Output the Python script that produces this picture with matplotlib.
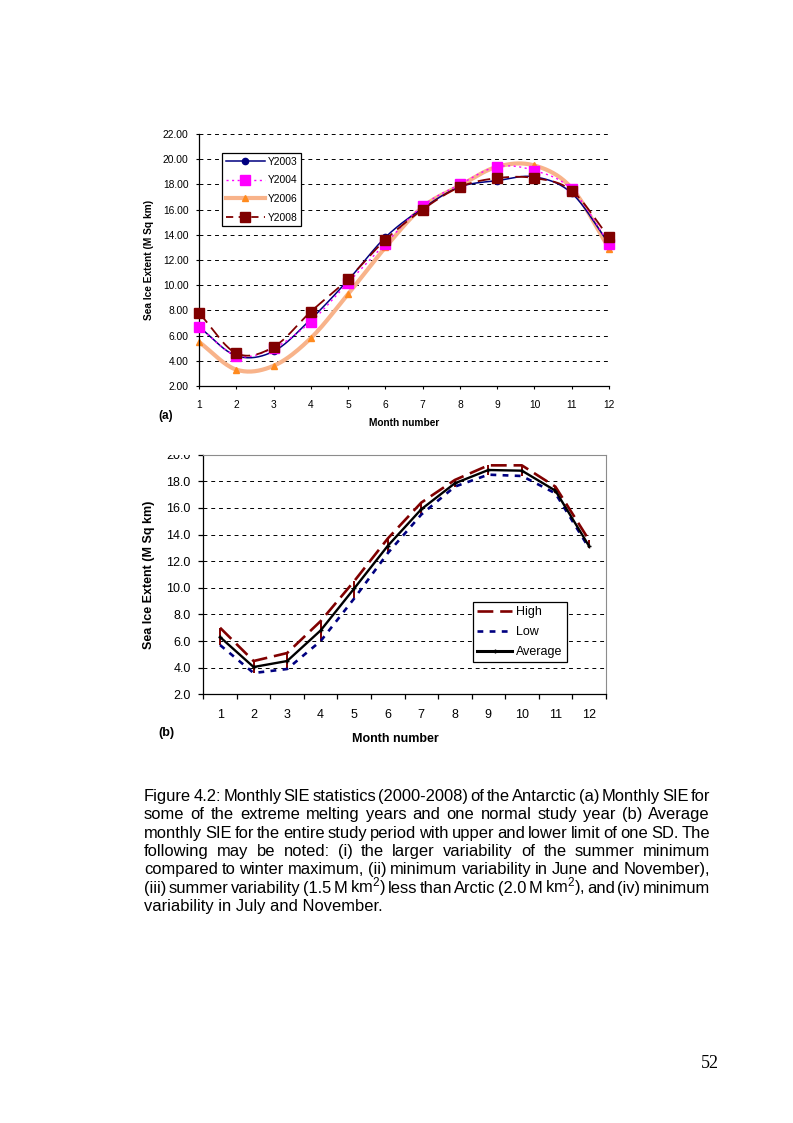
import numpy as np
import matplotlib
matplotlib.use('Agg')
import matplotlib.pyplot as plt
from matplotlib.lines import Line2D
from matplotlib.transforms import Bbox
from matplotlib.ticker import FormatStrFormatter

plt.rcParams['font.family'] = ['Liberation Sans', 'DejaVu Sans']
plt.rcParams['mathtext.fontset'] = 'custom'
plt.rcParams['mathtext.rm'] = 'Liberation Sans'
plt.rcParams['mathtext.it'] = 'Liberation Sans:italic'
plt.rcParams['mathtext.bf'] = 'Liberation Sans:bold'

# ---------------- data ----------------
months = list(range(1, 13))
month_labels = [str(m) for m in months]

# (a) monthly SIE for selected years (M sq km)
y2003 = [6.7, 4.4, 4.75, 7.3, 10.4, 13.8, 16.1, 17.8, 18.3, 18.6, 17.3, 13.3]
y2004 = [6.7, 4.4, 5.0, 7.1, 10.2, 13.3, 16.3, 18.0, 19.4, 19.1, 17.6, 13.3]
y2006 = [5.5, 3.3, 3.6, 5.8, 9.3, 13.0, 16.2, 17.9, 19.4, 19.5, 17.7, 12.9]
y2008 = [7.8, 4.6, 5.1, 7.9, 10.5, 13.6, 16.0, 17.8, 18.5, 18.5, 17.5, 13.8]

# (b) average and +/- one SD
sie_high = [7.0, 4.5, 5.1, 7.5, 10.5, 13.7, 16.4, 18.1, 19.2, 19.2, 17.6, 13.6]
sie_low = [5.7, 3.6, 3.9, 6.0, 9.2, 12.6, 15.5, 17.6, 18.5, 18.4, 17.1, 13.0]
sie_avg = [6.3, 4.05, 4.5, 6.8, 9.95, 13.15, 15.9, 17.85, 18.85, 18.8, 17.3, 13.15]

caption_lines = [
    "Figure 4.2: Monthly SIE statistics (2000-2008) of the Antarctic (a) Monthly SIE for",
    "some of the extreme melting years and one normal study year (b) Average",
    "monthly SIE for the entire study period with upper and lower limit of one SD. The",
    "following may be noted: (i) the larger variability of the summer minimum",
    "compared to winter maximum, (ii) minimum variability in June and November),",
    "(iii) summer variability (1.5 M km$^{2}$) less than Arctic (2.0 M km$^{2}$), and (iv) minimum",
    "variability in July and November.",
]
page_number = "52"

# ---------------- figure ----------------
W, H = 793, 1123
fig = plt.figure(figsize=(W / 100, H / 100), dpi=100)


def fx(x):
    return x / W


def fy(y):
    return 1 - y / H


def smooth(x, y, n=20):
    """Catmull-Rom curve through the points (Excel-style smoothed line)."""
    x = np.asarray(x, float)
    y = np.asarray(y, float)
    px = np.concatenate([[2 * x[0] - x[1]], x, [2 * x[-1] - x[-2]]])
    py = np.concatenate([[2 * y[0] - y[1]], y, [2 * y[-1] - y[-2]]])
    t = np.linspace(0, 1, n, endpoint=False)
    xs, ys = [], []
    for i in range(1, len(px) - 2):
        for P, out in ((px, xs), (py, ys)):
            p0, p1, p2, p3 = P[i - 1], P[i], P[i + 1], P[i + 2]
            out.extend(0.5 * ((2 * p1) + (-p0 + p2) * t
                              + (2 * p0 - 5 * p1 + 4 * p2 - p3) * t ** 2
                              + (-p0 + 3 * p1 - 3 * p2 + p3) * t ** 3))
    xs.append(x[-1])
    ys.append(y[-1])
    return xs, ys


# ---------------- chart (a) ----------------
ax1 = fig.add_axes([fx(199), fy(386), (609 - 199) / W, (386 - 134) / H])
ax1.set_xlim(1, 12)
ax1.set_ylim(2, 22)
ax1.set_xticks(months)
ax1.set_xticklabels(month_labels)
ax1.set_yticks(np.arange(2, 23, 2))
ax1.yaxis.set_major_formatter(FormatStrFormatter('%.2f'))
ax1.tick_params(axis='y', length=2.5, width=0.8, pad=5, labelsize=7.4)
ax1.tick_params(axis='x', length=2.5, width=0.8, pad=7.5, labelsize=7.4)
for s in ('top', 'right'):
    ax1.spines[s].set_visible(False)
for s in ('left', 'bottom'):
    ax1.spines[s].set_linewidth(0.9)
for v in np.arange(4, 23, 2):
    ax1.axhline(v, color='black', lw=0.7, ls=(0, (4, 4)), zorder=1)

c2003, c2004, c2006l, c2006m, c2008 = '#000080', '#FF00FF', '#F8B38A', '#FF8A1E', '#800000'

sx, sy = smooth(months, y2006)
ax1.plot(sx, sy, color=c2006l, lw=3.0, zorder=2, solid_capstyle='butt')
ax1.plot(months, y2006, ls='none', marker='^', ms=4.5, color=c2006m, zorder=2.5, clip_on=False)

sx, sy = smooth(months, y2003)
ax1.plot(sx, sy, color=c2003, lw=1.1, zorder=3)
ax1.plot(months, y2003, ls='none', marker='o', ms=4.5, color=c2003, zorder=3, clip_on=False)

sx, sy = smooth(months, y2004)
ax1.plot(sx, sy, color=c2004, lw=1.0, ls=(0, (1.5, 2.5)), zorder=4)
ax1.plot(months, y2004, ls='none', marker='s', ms=6.5, color=c2004, zorder=4, clip_on=False)

sx, sy = smooth(months, y2008)
ax1.plot(sx, sy, color=c2008, lw=1.3, ls=(0, (7, 3.5)), zorder=5)
ax1.plot(months, y2008, ls='none', marker='s', ms=6.5, color=c2008, zorder=5, clip_on=False)

h1 = [
    Line2D([], [], color=c2003, lw=1.1, marker='o', ms=4.5),
    Line2D([], [], color=c2004, lw=1.0, ls=(0, (1.5, 2.5)), marker='s', ms=6.5),
    Line2D([], [], color=c2006l, lw=3.0, marker='^', ms=4.5, mfc=c2006m, mec=c2006m),
    Line2D([], [], color=c2008, lw=1.3, ls=(0, (4, 3)), marker='s', ms=6.5),
]
leg1 = ax1.legend(h1, ['Y2003', 'Y2004', 'Y2006', 'Y2008'], loc='upper left',
                  bbox_to_anchor=(fx(222), fy(153)), bbox_transform=fig.transFigure,
                  borderaxespad=0, fontsize=7.4, handlelength=3.8, handletextpad=0.3,
                  labelspacing=0.85, borderpad=0.35, fancybox=False, framealpha=1,
                  edgecolor='black')
leg1.get_frame().set_linewidth(0.9)

fig.text(fx(149), fy(260), 'Sea Ice Extent (M Sq km)', rotation=90, ha='center',
         va='center', fontsize=7.3, fontweight='bold')
fig.text(fx(404), fy(423), 'Month number', ha='center', va='center', fontsize=7.3,
         fontweight='bold')
fig.text(fx(165.5), fy(416), '(a)', ha='center', va='center', fontsize=8.5,
         fontweight='bold')

# ---------------- chart (b) ----------------
ax2 = fig.add_axes([fx(203.3), fy(694.3), (605.7 - 203.3) / W, (694.3 - 454.7) / H])
ax2.set_xlim(0.5, 12.5)
ax2.set_ylim(2, 20)
ax2.set_xticks(np.arange(0.5, 12.6, 1))
ax2.set_xticklabels([])
ax2.set_xticks(months, minor=True)
ax2.set_xticklabels(month_labels, minor=True)
ax2.tick_params(axis='x', which='major', length=3.5, width=0.9)
ax2.tick_params(axis='x', which='minor', length=0, pad=10.5, labelsize=9)
ax2.set_yticks(np.arange(2, 21, 2))
ax2.yaxis.set_major_formatter(FormatStrFormatter('%.1f'))
ax2.tick_params(axis='y', length=3.5, width=0.9, pad=5.5, labelsize=9)
for s in ('top', 'right'):
    ax2.spines[s].set_color('#8c8c8c')
    ax2.spines[s].set_linewidth(0.8)
for s in ('left', 'bottom'):
    ax2.spines[s].set_linewidth(0.9)
for v in np.arange(4, 19, 2):
    ax2.axhline(v, color='black', lw=0.7, ls=(0, (4, 4)), zorder=1)

# high-low lines
ax2.vlines(months, sie_low, sie_high, color='#800000', lw=1.4, zorder=2)
ax2.plot(months, sie_high, color='#800000', lw=1.9, ls=(0, (6, 2.6)), zorder=3)
ax2.plot(months, sie_low, color='#000080', lw=1.9, ls=(0, (2.2, 2.4)), zorder=3)
ax2.plot(months, sie_avg, color='black', lw=1.7, zorder=4, marker='+', ms=3, mew=1)

h2 = [
    Line2D([], [], color='#800000', lw=1.9, ls=(0, (6, 2.6))),
    Line2D([], [], color='#000080', lw=1.9, ls=(0, (2.2, 2.4))),
    Line2D([], [], color='black', lw=2.2, marker='+', ms=3, mew=1),
]
leg2 = ax2.legend(h2, ['High', 'Low', 'Average'], loc='upper left',
                  bbox_to_anchor=(fx(473), fy(602)), bbox_transform=fig.transFigure,
                  borderaxespad=0, fontsize=9, handlelength=2.8, handletextpad=0.3,
                  labelspacing=0.62, borderpad=0.35, fancybox=False, framealpha=1,
                  edgecolor='black')
leg2.get_frame().set_linewidth(0.9)

clip = Bbox.from_extents(0, 0, W, H - 454.7)
for tk in ax2.yaxis.get_major_ticks():
    tk.label1.set_clip_box(clip)
    tk.label1.set_clip_on(True)

fig.text(fx(149), fy(575), 'Sea Ice Extent (M Sq km)', rotation=90, ha='center',
         va='center', fontsize=9, fontweight='bold')
fig.text(fx(395), fy(739), 'Month number', ha='center', va='center', fontsize=9,
         fontweight='bold')
fig.text(fx(166), fy(733), '(b)', ha='center', va='center', fontsize=9,
         fontweight='bold')

# ---------------- caption (justified) ----------------
renderer = fig.canvas.get_renderer()


def text_w(s, size):
    t = fig.text(0, 0, s, fontsize=size)
    w = t.get_window_extent(renderer).width
    t.remove()
    return w


x_left, x_right = 144, 710
cap_size = 10 * 238 / text_w(caption_lines[-1], 10)
line_centers = [796, 814.3, 832.7, 851, 869.3, 887.7, 906]
for i, line in enumerate(caption_lines):
    base = line_centers[i] + 5.0
    if i == len(caption_lines) - 1:
        fig.text(fx(x_left), fy(base), line, fontsize=cap_size, ha='left', va='baseline')
        continue
    words = line.split(' ')
    widths = [text_w(w, cap_size) for w in words]
    gap = (x_right - x_left - sum(widths)) / (len(words) - 1)
    x = x_left
    for w, wd in zip(words, widths):
        fig.text(fx(x), fy(base), w, fontsize=cap_size, ha='left', va='baseline')
        x += wd + gap

fig.text(fx(710), fy(1064), page_number, ha='center', va='center', fontsize=13,
         family=['Liberation Serif', 'DejaVu Serif'])

fig.savefig('out.png', dpi=100)
